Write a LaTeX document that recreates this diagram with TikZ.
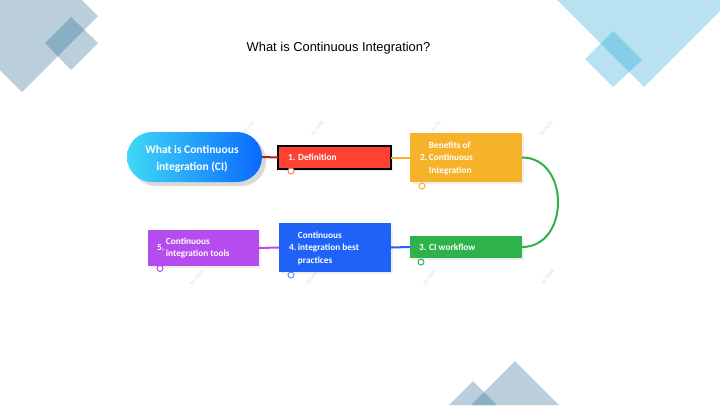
\documentclass[tikz,border=0pt]{standalone}
\usepackage{fontspec}
\setmainfont{Carlito}
\newfontfamily\titlefont{Liberation Sans}
\usetikzlibrary{calc,shadows}
\definecolor{decoA}{HTML}{BACFDB}
\definecolor{decoB}{HTML}{8AAFC2}
\definecolor{decoC}{HTML}{B8E2F2}
\definecolor{decoD}{HTML}{86CDE8}
\definecolor{cred}{HTML}{FF4134}
\definecolor{corange}{HTML}{F7B22B}
\definecolor{cgreen}{HTML}{2EB24B}
\definecolor{cblue}{HTML}{1E62F7}
\definecolor{cpurple}{HTML}{B54CEE}
\definecolor{cdarkred}{HTML}{A3221B}
\definecolor{pillL}{HTML}{3FD9F6}
\definecolor{pillR}{HTML}{0A69FE}
\definecolor{wm}{HTML}{D6D6D6}
\tikzset{
  boxbase/.style={draw=none, minimum width=#1, inner sep=0pt, outer sep=0pt,
    drop shadow={shadow xshift=1.5pt, shadow yshift=-1.5pt, opacity=0.12}},
  boxtext/.style={anchor=west, inner sep=0pt, text=white, font=\bfseries\fontsize{9.3}{12.5}\selectfont},
  conn/.style={line width=2pt},
  icon/.style={circle, draw=#1, fill=white, line width=1pt, minimum size=6pt, inner sep=0pt},
  wmark/.style={text=wm, font=\fontsize{4.5}{5}\selectfont, rotate=52, inner sep=0pt}
}
\newcommand{\numtxt}[2]{#1\,\begin{tabular}[c]{@{}l@{}}#2\end{tabular}}
\begin{document}
\begin{tikzpicture}[x=1pt,y=-1pt]
\useasboundingbox (0,0) rectangle (720,405);
% decorations top-left
\fill[decoA] (98,16) -- (22,92) -- (-54,16) -- (22,-60) -- cycle;
\fill[decoA] (71,17) -- (98,43) -- (71,70) -- (45,43) -- cycle;
\begin{scope}
  \clip (98,16) -- (22,92) -- (-54,16) -- (22,-60) -- cycle;
  \fill[decoB] (71,17) -- (98,43) -- (71,70) -- (45,43) -- cycle;
\end{scope}
% decorations top-right
\fill[decoC] (553,-4) -- (644,87) -- (735,-4) -- cycle;
\fill[decoC] (613,31) -- (642,60) -- (613,87) -- (585,59) -- cycle;
\begin{scope}
  \clip (553,-4) -- (644,87) -- (735,-4) -- cycle;
  \fill[decoD] (613,31) -- (642,60) -- (613,87) -- (585,59) -- cycle;
\end{scope}
% decorations bottom
\fill[decoA] (515,361) -- (559,405) -- (471,405) -- cycle;
\fill[decoA] (473,381) -- (497,405) -- (449,405) -- cycle;
\begin{scope}
  \clip (515,361) -- (559,405) -- (471,405) -- cycle;
  \fill[decoB] (473,381) -- (497,405) -- (449,405) -- cycle;
\end{scope}
% title
\node[font=\titlefont\fontsize{12.9}{14}\selectfont, text=black] (title) at (338.5,48) {What is Continuous Integration?};
% watermarks
\node[wmark] (w1) at (197,278) {B.S Dubey};
\node[wmark] (w2) at (313,277) {B.S Dubey};
\node[wmark] (w3) at (430,277) {B.S Dubey};
\node[wmark] (w4) at (548,277) {B.S Dubey};
\begin{scope}
  \clip (120,121) rectangle (600,200);
  \node[wmark] (w5) at (250,126) {B.S Dubey};
  \node[wmark] (w6) at (318,128) {B.S Dubey};
  \node[wmark] (w7) at (438,124) {B.S Dubey};
  \node[wmark] (w8) at (547,128) {B.S Dubey};
\end{scope}
% boxes
\node[boxbase=113pt, minimum height=23pt, fill=cred, draw=black, line width=1.5pt] (b1) at (334.5,157.5) {};
\node[boxbase=112pt, minimum height=49pt, fill=corange] (b2) at (466,157.5) {};
\node[boxbase=112pt, minimum height=22pt, fill=cgreen] (b3) at (466,247) {};
\node[boxbase=112pt, minimum height=49pt, fill=cblue] (b4) at (335,247.5) {};
\node[boxbase=111pt, minimum height=36pt, fill=cpurple] (b5) at (203.5,248) {};
% central pill
\node[minimum width=135pt, minimum height=50pt, rounded corners=25pt, left color=pillL, right color=pillR, inner sep=0pt,
  drop shadow={shadow xshift=4pt, shadow yshift=-4pt, opacity=0.3, rounded corners=25pt}] (c0) at (194.5,157) {};
\node[text=white, align=center, font=\bfseries\fontsize{11.5}{17}\selectfont, inner sep=0pt] (c0t) at (192,158.5) {What is Continuous\\integration (CI)};
% connectors
\draw[conn, cdarkred] (c0.east) -- (b1.west);
\draw[conn, corange] (b1.east) -- (b2.west);
\draw[conn, cgreen] (b2.east) .. controls ($(b2.east)+(48,0)$) and ($(b3.east)+(48,0)$) .. (b3.east);
\draw[conn, cblue] (b3.west) -- (b4.east);
\draw[conn, cpurple] (b4.west) -- (b5.east);
% box texts
\node[boxtext] (t1) at ($(b1.west)+(10,0)$) {1. Definition};
\node[boxtext] (t2) at ($(b2.west)+(10,0.5)$) {\numtxt{2.}{Benefits of\\Continuous\\Integration}};
\node[boxtext] (t3) at ($(b3.west)+(9,0)$) {3. CI workflow};
\node[boxtext] (t4) at ($(b4.west)+(10,0.5)$) {\numtxt{4.}{Continuous\\integration best\\practices}};
\node[boxtext] (t5) at ($(b5.west)+(9,0)$) {\numtxt{5.}{Continuous\\integration tools}};
% icons
\node[icon=cred!70] (i1) at ($(b1.south west)+(13,2)$) {};
\node[icon=corange] (i2) at ($(b2.south west)+(12,4)$) {};
\node[icon=cgreen] (i3) at ($(b3.south west)+(11,4)$) {};
\node[icon=cblue!70] (i4) at ($(b4.south west)+(12,3)$) {};
\node[icon=cpurple] (i5) at ($(b5.south west)+(12,2.5)$) {};
\end{tikzpicture}
\end{document}
